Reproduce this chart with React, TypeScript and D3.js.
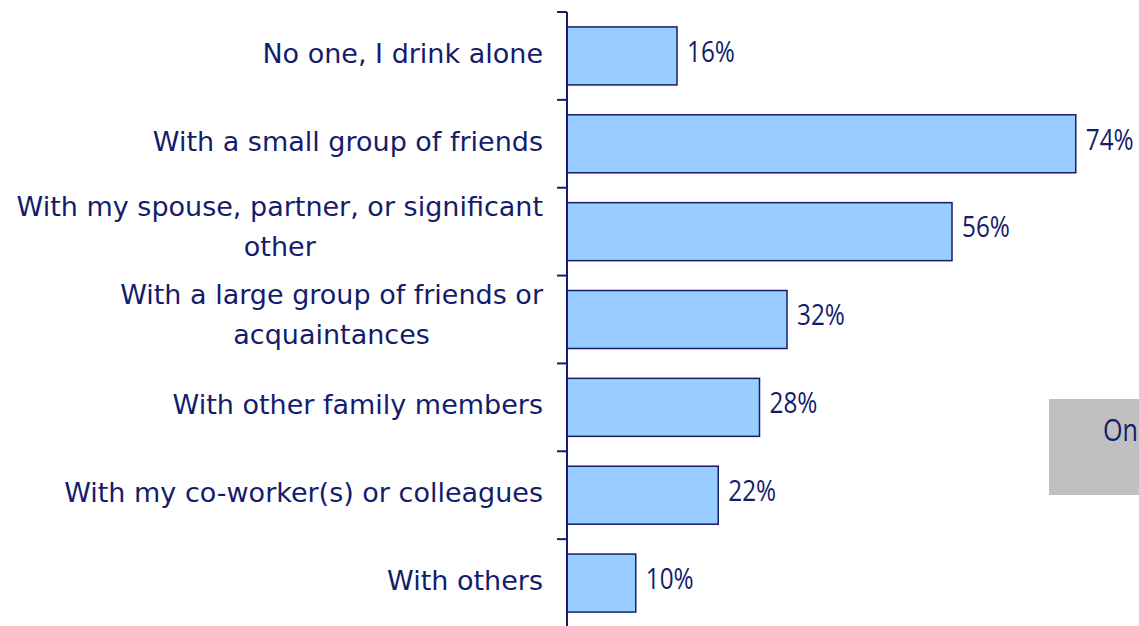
import React, { useEffect, useRef } from 'react'
import * as d3 from 'd3'

const categories = [
  ['No one, I drink alone'],
  ['With a small group of friends'],
  ['With my spouse, partner, or significant', 'other'],
  ['With a large group of friends or', 'acquaintances'],
  ['With other family members'],
  ['With my co-worker(s) or colleagues'],
  ['With others'],
]
const values = [16, 74, 56, 32, 28, 22, 10]
const boxText = 'On'

const W = 1139
const H = 626
const NAVY = '#141c6c'
const FONT = '"DejaVu Sans", Verdana, sans-serif'
const NUM_FONT = '"Open Sans", "Liberation Sans", sans-serif'
const NARROW = 0.81 // horizontal squeeze for the numeric font

export default function App() {
  const svgRef = useRef<SVGSVGElement>(null)

  useEffect(() => {
    if (!svgRef.current) return
    const svg = d3.select(svgRef.current)
    svg.selectAll('*').remove()

    const keys = categories.map(c => c.join(' '))
    const axisX = 567

    const y = d3.scaleBand<string>()
      .domain(keys)
      .range([12, 627])
      .paddingInner(0.34)
      .paddingOuter(0.17)
    const step = y.step()

    const x = d3.scaleLinear().domain([0, 100]).range([axisX, axisX + 687.5])

    // gray box on the right (partly off-canvas)
    svg.append('rect')
      .attr('x', 1049).attr('y', 399)
      .attr('width', 200).attr('height', 96)
      .attr('fill', '#c0c0c0')
    svg.append('g')
      .attr('transform', `translate(1103,430) scale(${NARROW},1)`)
      .append('text')
      .attr('dy', '0.36em')
      .attr('fill', NAVY)
      .style('font-family', NUM_FONT)
      .style('font-size', '31px')
      .text(boxText)

    // bars
    svg.selectAll('.bar')
      .data(values)
      .enter().append('rect')
      .attr('class', 'bar')
      .attr('x', x(0))
      .attr('y', (d, i) => y(keys[i])!)
      .attr('width', d => x(d) - x(0))
      .attr('height', y.bandwidth())
      .attr('fill', '#99ccff')
      .attr('stroke', NAVY)
      .attr('stroke-width', 1.5)

    // value labels
    svg.selectAll('.val')
      .data(values)
      .enter().append('g')
      .attr('class', 'val')
      .attr('transform', (d, i) =>
        `translate(${x(d) + 10},${y(keys[i])! + y.bandwidth() / 2 - 5}) scale(${NARROW},1)`)
      .append('text')
      .attr('dy', '0.36em')
      .attr('fill', NAVY)
      .style('font-family', NUM_FONT)
      .style('font-size', '30px')
      .text(d => `${d}%`)

    // axis line + ticks at band boundaries
    svg.append('line')
      .attr('x1', axisX).attr('x2', axisX)
      .attr('y1', 12).attr('y2', H)
      .attr('stroke', NAVY).attr('stroke-width', 2)
    d3.range(keys.length + 1).forEach(i => {
      const ty = 12 + i * step
      svg.append('line')
        .attr('x1', axisX - 10).attr('x2', axisX)
        .attr('y1', ty).attr('y2', ty)
        .attr('stroke', NAVY).attr('stroke-width', 2)
    })

    // category labels: block right-aligned, lines centered within block
    categories.forEach((lines, i) => {
      const cy = y(keys[i])! + y.bandwidth() / 2 - 3 - (lines.length > 1 ? 2 : 0)
      const t = svg.append('text')
        .attr('fill', NAVY)
        .style('font-family', FONT)
        .style('font-size', '27px')
        .attr('text-anchor', 'middle')
      const tspans = lines.map((ln, j) =>
        t.append('tspan')
          .attr('y', cy + (j - (lines.length - 1) / 2) * 40)
          .attr('dy', '0.36em')
          .text(ln)
      )
      const widths = tspans.map(s => (s.node() as SVGTSpanElement).getComputedTextLength())
      const maxW = Math.max(...widths)
      const center = 543 - maxW / 2
      tspans.forEach(s => s.attr('x', center))
    })
  }, [])

  return (
    <svg ref={svgRef} width={W} height={H}
      style={{ position: 'absolute', left: 0, top: 0, display: 'block', background: '#fff' }} />
  )
}
